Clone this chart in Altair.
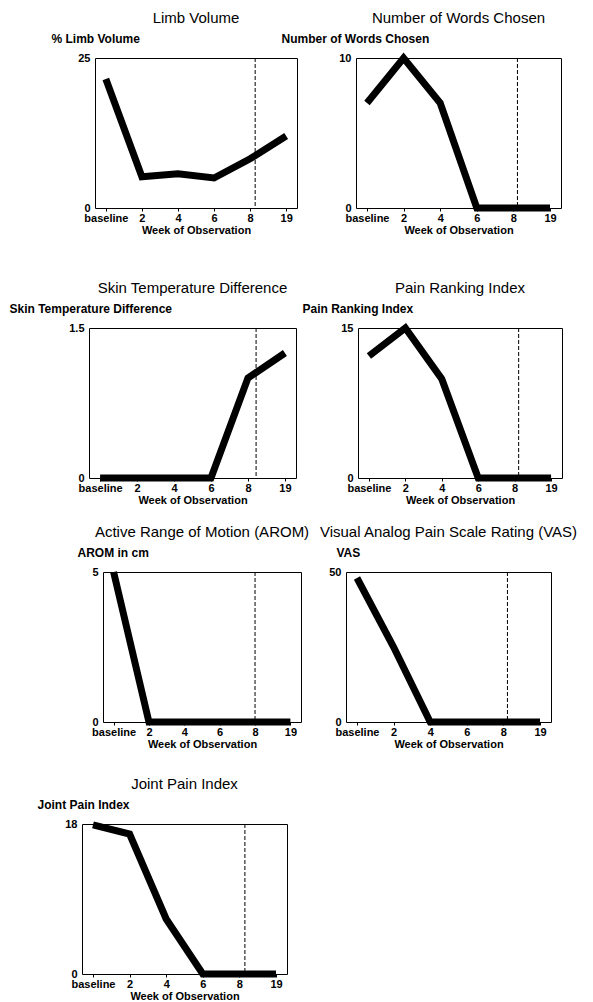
import json
import altair as alt
import pandas as pd

# ---------------- data ----------------
weeks = ["baseline", "2", "4", "6", "8", "19"]
week_pos = [0, 1, 2, 3, 4, 5]

panel_titles = [
    "Limb Volume",
    "Number of Words Chosen",
    "Skin Temperature Difference",
    "Pain Ranking Index",
    "Active Range of Motion (AROM)",
    "Visual Analog Pain Scale Rating (VAS)",
    "Joint Pain Index",
]
y_titles = [
    "% Limb Volume",
    "Number of Words Chosen",
    "Skin Temperature Difference",
    "Pain Ranking Index",
    "AROM in cm",
    "VAS",
    "Joint Pain Index",
]
y_max = [25, 10, 1.5, 15, 5, 50, 18]

limb_volume = [21.5, 5.2, 5.7, 5.0, 8.2, 12.0]
words_chosen = [7, 10, 7, 0, 0, 0]
skin_temp_diff = [0, 0, 0, 0, 1.0, 1.25]
pain_ranking = [12.2, 15, 9.9, 0, 0, 0]
arom_cm = [5, 0, 0, 0, 0, 0]
vas_rating = [48, 25, 0, 0, 0, 0]
joint_pain = [17.9, 16.8, 6.6, 0, 0, 0]

# position of the dashed phase-change line (in week-index units)
phase_change = [4.14, 4.11, 4.22, 4.11, 4.0, 4.11, 4.15]

series = [limb_volume, words_chosen, skin_temp_diff, pain_ranking,
          arom_cm, vas_rating, joint_pain]

# ---------------- layout / style ----------------
plot_w = [202, 205, 207, 204, 198, 205, 205]
plot_h = 150
y_title_dx = [-44, -75, -80, -56, -26, -10, -45]
row_indent = [13, 7, 21]          # left-column indent of rows 1-3 relative to row 4
row_spacing = [59, 62, 45]        # gap between left and right plot in rows 1-3
row_steps = [270, 244, 252]       # distance between plot tops of consecutive rows

FONT = "Liberation Sans"
label_expr = json.dumps(weeks) + "[datum.value]"


def panel(i):
    df = pd.DataFrame({"pos": week_pos, "value": series[i]})
    x = alt.X(
        "pos:Q",
        scale=alt.Scale(domain=[-0.3, 5.3], nice=False, zero=False),
        axis=alt.Axis(
            values=week_pos, labelExpr=label_expr, title="Week of Observation",
            grid=False, domain=False, tickSize=3, tickColor="black",
            labelPadding=1, titlePadding=1, labelFlush=False, labelOverlap=False,
        ),
    )
    y = alt.Y(
        "value:Q",
        scale=alt.Scale(domain=[0, y_max[i]], nice=False, zero=True),
        axis=alt.Axis(
            values=[0, y_max[i]], labelExpr="'' + datum.value", title=y_titles[i],
            titleAngle=0, titleAlign="left", titleBaseline="middle",
            titleX=y_title_dx[i], titleY=-20, titleFontSize=12,
            grid=False, domain=False, ticks=False, labelPadding=5,
            labelFlush=False, labelBaseline="middle",
        ),
    )
    line = alt.Chart(df).mark_line(
        color="black", strokeWidth=7, strokeJoin="miter", strokeCap="butt"
    ).encode(x=x, y=y)
    rule = alt.Chart(pd.DataFrame({"pos": [phase_change[i]]})).mark_rule(
        color="black", strokeWidth=1, strokeDash=[4, 2]
    ).encode(x=x)
    return alt.layer(line, rule).properties(
        width=plot_w[i], height=plot_h,
        title=alt.TitleParams(panel_titles[i], frame="group", anchor="middle", offset=6),
    )


def spacer(w, h):
    return alt.Chart(pd.DataFrame({"v": [0]})).mark_text(text="").encode(
        x=alt.value(0), y=alt.value(0)
    ).properties(width=w, height=h, view=alt.ViewBackground(stroke=None))


def row(r, a, b):
    pair = alt.hconcat(panel(a), panel(b), spacing=row_spacing[r], bounds="flush")
    return alt.hconcat(spacer(row_indent[r], 1), pair, spacing=0, bounds="flush")


chart = alt.vconcat(
    row(0, 0, 1), spacer(1, row_steps[0]),
    row(1, 2, 3), spacer(1, row_steps[1]),
    row(2, 4, 5), spacer(1, row_steps[2]),
    panel(6),
    spacing=0, bounds="flush",
).properties(
    padding={"left": 0, "top": 2, "right": 2, "bottom": 0}
).configure_view(
    stroke="black", strokeWidth=1
).configure_axis(
    labelFont=FONT, labelFontSize=11, labelFontWeight="bold", labelColor="black",
    titleFont=FONT, titleFontSize=11, titleFontWeight="bold", titleColor="black",
).configure_title(
    font=FONT, fontSize=15, fontWeight="normal", color="black",
)

chart.save("out.html", embed_options={"renderer": "svg", "actions": False})
